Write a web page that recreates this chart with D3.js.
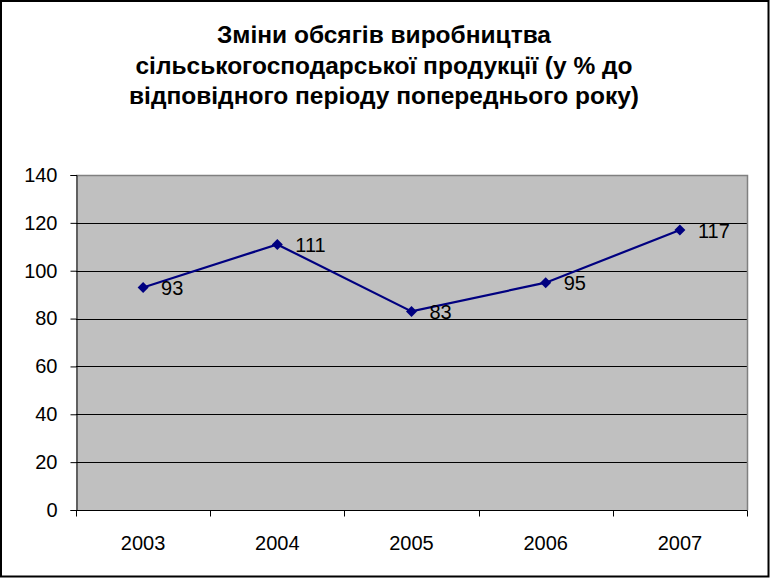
<!DOCTYPE html>
<html><head><meta charset="utf-8">
<script src="https://cdn.jsdelivr.net/npm/d3@7/dist/d3.min.js"></script>
<style>html,body{margin:0;padding:0;background:#fff;}svg{display:block;}</style>
</head><body>
<svg id="c" width="771" height="578"></svg>
<script>
const categories = ["2003","2004","2005","2006","2007"];
const values = [93, 111, 83, 95, 117];
const yTicks = [0,20,40,60,80,100,120,140];
const titleLines = ["Зміни обсягів виробництва","сільськогосподарської продукції (у % до","відповідного періоду попереднього року)"];

const svg = d3.select("#c");
const font = "'Liberation Sans', Arial, sans-serif";
const L = 76, R = 747, T = 175, B = 510;

svg.append("rect").attr("x",1).attr("y",1).attr("width",767.5).attr("height",575.5)
  .attr("fill","#fff").attr("stroke","#000").attr("stroke-width",2);

const tg = svg.append("g");
titleLines.forEach((t,i)=>{
  tg.append("text").attr("x",384).attr("y",43+i*30.5).attr("text-anchor","middle")
    .attr("font-family",font).attr("font-weight","bold").attr("font-size",24.5).attr("fill","#000").text(t);
});

const x = d3.scaleBand().domain(categories).range([L,R]);
const y = d3.scaleLinear().domain([0,140]).range([B,T]);

svg.append("rect").attr("x",L).attr("y",T).attr("width",R-L).attr("height",B-T).attr("fill","#c0c0c0");
// grid
svg.append("g").selectAll("line").data(yTicks.filter(d=>d>0 && d<140)).join("line")
  .attr("x1",L).attr("x2",R).attr("y1",d=>Math.round(y(d))+0.5).attr("y2",d=>Math.round(y(d))+0.5)
  .attr("stroke","#000").attr("stroke-width",1);
// top/right border grey
svg.append("path").attr("d",`M${L},${T+0.5}H${R+0.5}V${B}`).attr("fill","none").attr("stroke","#808080").attr("stroke-width",1.5);

// y axis
const ya = d3.axisLeft(y).tickValues(yTicks).tickSize(6).tickPadding(13).tickFormat(d3.format("d"));
const yg = svg.append("g").attr("transform",`translate(${L+0.5},0)`).call(ya);
yg.select(".domain").attr("stroke","#000");
yg.selectAll(".tick line").attr("stroke","#000");
yg.selectAll("text").attr("font-family",font).attr("font-size",20).attr("fill","#000");

// x axis
const xa = d3.axisBottom(x).tickSize(0).tickPadding(25);
const xg = svg.append("g").attr("transform",`translate(0,${B+0.5})`).call(xa);
xg.select(".domain").attr("stroke","#000").attr("d",`M${L},0H${R+0.5}`);
xg.selectAll("text").attr("font-family",font).attr("font-size",20).attr("fill","#000");
const bounds = categories.map(c=>x(c)).concat([R]);
xg.append("g").selectAll("line").data(bounds).join("line")
  .attr("x1",d=>Math.round(d)+0.5).attr("x2",d=>Math.round(d)+0.5).attr("y1",0).attr("y2",6).attr("stroke","#000");

// line
const cx = c=>x(c)+x.bandwidth()/2;
const line = d3.line().x((d,i)=>cx(categories[i])).y(d=>y(d));
svg.append("path").datum(values).attr("d",line).attr("fill","none").attr("stroke","#000080").attr("stroke-width",2.2);
svg.append("g").selectAll("path").data(values).join("path")
  .attr("transform",(d,i)=>`translate(${cx(categories[i])},${y(d)})`)
  .attr("d","M0,-5.5L5.5,0L0,5.5L-5.5,0Z").attr("fill","#000080");
svg.append("g").selectAll("text").data(values).join("text")
  .attr("x",(d,i)=>cx(categories[i])+18).attr("y",d=>y(d)+7.5)
  .attr("font-family",font).attr("font-size",20).attr("fill","#000").text(d=>d);
</script>
</body></html>
